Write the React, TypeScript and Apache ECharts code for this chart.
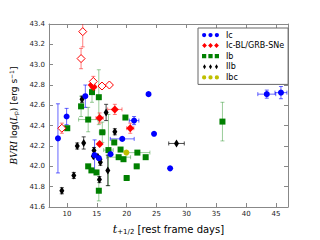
import React, { useEffect, useRef } from "react";
import * as echarts from "echarts";

// [x, y, xerr, yerr]
const icPoints: number[][] = [
  [8.5, 42.275, 0, 0.34],
  [9.95, 42.49, 0, 0.08],
  [13.08, 42.69, 0, 0.11],
  [14.63, 42.11, 0, 0.15],
  [15.34, 42.08, 0, 0],
  [17.3, 42.12, 0, 0],
  [19.26, 42.27, 2.0, 0],
  [21.24, 42.45, 0.8, 0.04],
  [24.58, 42.32, 0, 0],
  [23.66, 42.71, 0, 0],
  [27.27, 41.98, 0, 0],
  [43.45, 42.71, 1.5, 0.04],
  [45.82, 42.725, 1.0, 0.06],
];
const icblFilled: number[][] = [
  [14.15, 42.8, 0, 0.03],
  [14.45, 42.78, 0.4, 0.03],
  [15.47, 42.475, 0.6, 0.05],
  [18.02, 42.56, 1.2, 0.05],
  [20.6, 42.375, 0.6, 0.05],
  [15.47, 42.22, 0, 0],
];
const icblOpen: number[][] = [
  [12.65, 43.325, 0, 0.15],
  [12.37, 43.06, 0, 0.1],
  [14.42, 42.835, 0, 0.05],
  [15.87, 42.79, 0, 0],
  [17.11, 42.8, 0, 0],
  [9.15, 42.375, 0, 0.05],
];
const ibPoints: number[][] = [
  [14.2, 42.73, 0, 0.1],
  [15.34, 42.68, 0, 0.27],
  [12.37, 42.59, 0, 0.1],
  [13.56, 42.46, 1.6, 0.12],
  [10.06, 42.375, 0, 0],
  [15.92, 42.335, 0.5, 0.1],
  [19.79, 42.48, 0, 0],
  [17.92, 42.235, 0, 0],
  [16.95, 42.16, 0.8, 0.35],
  [18.66, 42.09, 2.0, 0],
  [19.47, 42.07, 0, 0],
  [18.98, 42.165, 0, 0],
  [21.79, 42.135, 2.1, 0],
  [21.68, 42.0, 0.4, 0],
  [23.18, 42.09, 0, 0],
  [20.0, 41.885, 0.4, 0],
  [13.56, 42.0, 0, 0],
  [14.1, 41.96, 0, 0],
  [14.95, 41.94, 0, 0],
  [15.34, 41.76, 0, 0.1],
  [36.03, 42.44, 0, 0.19],
];
const iibPoints: number[][] = [
  [12.53, 42.66, 0, 0.03],
  [16.56, 42.53, 0, 0.08],
  [18.02, 42.34, 0, 0.03],
  [12.81, 42.23, 0, 0.06],
  [11.73, 42.2, 0, 0.03],
  [14.53, 42.155, 0, 0.03],
  [14.42, 42.1, 0, 0],
  [15.18, 42.095, 0, 0],
  [15.5, 42.07, 0, 0],
  [15.6, 42.04, 0, 0.03],
  [16.84, 41.96, 0, 0.15],
  [15.44, 41.87, 0, 0.03],
  [11.15, 41.91, 0, 0.03],
  [9.15, 41.76, 0, 0.03],
  [28.34, 42.225, 1.3, 0],
];
const ibcPoints: number[][] = [[19.95, 42.135, 0, 0]];

const xTicks = [10, 15, 20, 25, 30, 35, 40, 45];

const BLUE = "#0000ff";
const RED = "#ff0000";
const GREEN = "#008000";
const BLACK = "#000000";
const YELLOW = "#bfbf00";
const FONT = "DejaVu Sans";

const errSeries = (data: number[][], color: string, opacity: number) => ({
  type: "custom",
  silent: true,
  clip: true,
  z: 1,
  encode: { x: 0, y: 1 },
  data,
  renderItem: (params: any, api: any) => {
    const x = api.value(0);
    const y = api.value(1);
    const xe = api.value(2);
    const ye = api.value(3);
    const style = { stroke: color, lineWidth: 1, opacity };
    const children: any[] = [];
    const cap = 2;
    if (ye > 0) {
      const t = api.coord([x, y + ye]);
      const b = api.coord([x, y - ye]);
      children.push({ type: "line", shape: { x1: t[0], y1: t[1], x2: b[0], y2: b[1] }, style });
      children.push({ type: "line", shape: { x1: t[0] - cap, y1: t[1], x2: t[0] + cap, y2: t[1] }, style });
      children.push({ type: "line", shape: { x1: b[0] - cap, y1: b[1], x2: b[0] + cap, y2: b[1] }, style });
    }
    if (xe > 0) {
      const l = api.coord([x - xe, y]);
      const r = api.coord([x + xe, y]);
      children.push({ type: "line", shape: { x1: l[0], y1: l[1], x2: r[0], y2: r[1] }, style });
      children.push({ type: "line", shape: { x1: l[0], y1: l[1] - cap, x2: l[0], y2: l[1] + cap }, style });
      children.push({ type: "line", shape: { x1: r[0], y1: r[1] - cap, x2: r[0], y2: r[1] + cap }, style });
    }
    return { type: "group", children };
  },
});

const circ = (cx: number) => `M${cx - 2},2.5a2,2 0 1,0 4,0a2,2 0 1,0 -4,0`;
const diam = (cx: number) => `M${cx},0L${cx + 2.4},2.5L${cx},5L${cx - 2.4},2.5Z`;
const thin = (cx: number) => `M${cx},0L${cx + 1.5},2.5L${cx},5L${cx - 1.5},2.5Z`;
const sq = (cx: number) => `M${cx - 2},0.5L${cx + 2},0.5L${cx + 2},4.5L${cx - 2},4.5Z`;
const three = (f: (c: number) => string) => "path://" + [2.5, 8.5, 14.5].map(f).join(" ");

export default function App() {
  const ref = useRef<HTMLDivElement>(null);
  useEffect(() => {
    if (!ref.current) return;
    const chart = echarts.init(ref.current, undefined, { renderer: "svg" });
    const axisLine = { show: true, lineStyle: { color: "#888", width: 1 } };
    const tickStyle = { show: true, inside: true, length: 4, lineStyle: { color: "#888" } };
    const scatter = (name: string, data: any[], color: string, symbol: string, size: any) => ({
      type: "scatter",
      name,
      z: 3,
      symbol,
      symbolSize: size,
      itemStyle: { color, opacity: 1 },
      data,
    });
    chart.setOption({
      animation: false,
      textStyle: { fontFamily: FONT },
      grid: { left: 40, top: 24, right: 32, bottom: 24 },
      legend: {
        orient: "vertical",
        left: 198,
        top: 28,
        padding: [3, 4, 3, 4],
        itemGap: 2.6,
        itemWidth: 17,
        itemHeight: 5,
        backgroundColor: "#fff",
        borderColor: "#666",
        borderWidth: 1,
        borderRadius: 0,
        textStyle: { fontSize: 8, color: "#000", fontFamily: FONT, padding: [0, 0, 0, 2] },
        data: [
          { name: "Ic", icon: three(circ) },
          { name: "Ic-BL/GRB-SNe", icon: three(diam) },
          { name: "Ib", icon: three(sq) },
          { name: "IIb", icon: three(thin) },
          { name: "Ibc", icon: three(circ) },
        ],
      },
      xAxis: [
        {
          type: "value",
          min: 7,
          max: 47,
          position: "bottom",
          axisLine,
          axisTick: { ...tickStyle, customValues: xTicks },
          axisLabel: {
            customValues: xTicks,
            fontSize: 7,
            color: "#222",
            margin: 3,
            fontFamily: FONT,
          },
          splitLine: { show: false },
          name: "{it|t}{sub|+1/2} [rest frame days]",
          nameLocation: "middle",
          nameGap: 16,
          nameTextStyle: {
            fontSize: 10,
            color: "#000",
            fontFamily: FONT,
            rich: {
              it: { fontSize: 11, fontStyle: "italic", fontFamily: "DejaVu Serif", color: "#000" },
              sub: { fontSize: 7, verticalAlign: "bottom", padding: [5, 0, 0, 0], color: "#000" },
            },
          },
        },
        {
          type: "value",
          min: 7,
          max: 47,
          position: "top",
          axisLine,
          axisTick: { ...tickStyle, customValues: xTicks },
          axisLabel: { show: false },
          splitLine: { show: false },
        },
      ],
      yAxis: [
        {
          type: "value",
          min: 41.6,
          max: 43.4,
          interval: 0.2,
          position: "left",
          axisLine,
          axisTick: tickStyle,
          axisLabel: {
            fontSize: 7,
            color: "#222",
            margin: 4,
            fontFamily: FONT,
            formatter: (v: number) => v.toFixed(1),
          },
          splitLine: { show: false },
          name: "{it|BVRI} log({n|L}{sub|p}) [erg s{sup|−1}]",
          nameLocation: "middle",
          nameRotate: 90,
          nameGap: 24,
          nameTextStyle: {
            fontSize: 9,
            color: "#000",
            fontFamily: FONT,
            rich: {
              it: { fontSize: 9, fontStyle: "italic", fontFamily: "DejaVu Serif", color: "#000" },
              n: { fontSize: 9, fontStyle: "italic", fontFamily: "DejaVu Serif", color: "#000" },
              sub: { fontSize: 6, padding: [4, 0, 0, 0], color: "#000" },
              sup: { fontSize: 6, padding: [0, 0, 5, 0], color: "#000" },
            },
          },
        },
        {
          type: "value",
          min: 41.6,
          max: 43.4,
          interval: 0.2,
          position: "right",
          axisLine,
          axisTick: tickStyle,
          axisLabel: { show: false },
          splitLine: { show: false },
        },
      ],
      series: [
        errSeries(ibPoints, GREEN, 0.4),
        errSeries(iibPoints, BLACK, 0.7),
        errSeries(icPoints, BLUE, 0.6),
        errSeries(icblFilled, RED, 0.5),
        errSeries(icblOpen, RED, 0.5),
        scatter(
          "Ib",
          ibPoints.map((p) => [p[0], p[1]]),
          GREEN,
          "rect",
          6
        ),
        scatter(
          "IIb",
          iibPoints.map((p) => [p[0], p[1]]),
          BLACK,
          "diamond",
          [5, 8]
        ),
        scatter(
          "Ic",
          icPoints.map((p) => [p[0], p[1]]),
          BLUE,
          "circle",
          6
        ),
        scatter(
          "Ic-BL/GRB-SNe",
          [
            ...icblFilled.map((p) => ({ value: [p[0], p[1]] })),
            ...icblOpen.map((p) => ({
              value: [p[0], p[1]],
              itemStyle: { color: "#fff", borderColor: RED, borderWidth: 1 },
            })),
          ],
          RED,
          "diamond",
          8
        ),
        scatter(
          "Ibc",
          ibcPoints.map((p) => [p[0], p[1]]),
          YELLOW,
          "circle",
          6
        ),
      ],
    });
    return () => chart.dispose();
  }, []);
  return <div ref={ref} style={{ width: 320, height: 240, position: "absolute", left: 0, top: 0 }} />;
}
